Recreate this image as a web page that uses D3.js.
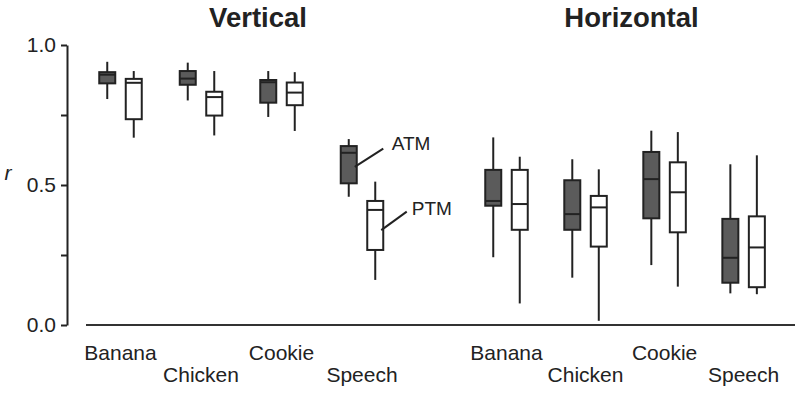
<!DOCTYPE html>
<html>
<head>
<meta charset="utf-8">
<script src="https://cdn.jsdelivr.net/npm/d3@7"></script>
<style>
  body { margin: 0; background: #fff; }
  text { font-family: "Liberation Sans", Arial, sans-serif; fill: #222; }
</style>
</head>
<body>
<svg width="800" height="393"></svg>
<script>
const width = 800;
const height = 393;

// categories and groups
const categories = ["Banana", "Chicken", "Cookie", "Speech"];
const groups = ["Vertical", "Horizontal"];
const yTicks = [0, 0.25, 0.5, 0.75, 1.0];
const yTickLabels = ["0.0", "", "0.5", "", "1.0"];

// five-number summaries: [whisker low, q1, median, q3, whisker high]
const vertAtm = [
    [0.807, 0.863, 0.894, 0.903, 0.940],
    [0.802, 0.858, 0.880, 0.907, 0.937],
    [0.743, 0.794, 0.867, 0.875, 0.907],
    [0.458, 0.506, 0.615, 0.639, 0.664]
];
const vertPtm = [
    [0.669, 0.735, 0.865, 0.879, 0.907],
    [0.677, 0.748, 0.814, 0.833, 0.907],
    [0.693, 0.785, 0.830, 0.866, 0.903],
    [0.161, 0.268, 0.411, 0.443, 0.512]
];
const horizAtm = [
    [0.242, 0.426, 0.443, 0.554, 0.670],
    [0.169, 0.340, 0.396, 0.517, 0.592],
    [0.214, 0.381, 0.521, 0.618, 0.694],
    [0.113, 0.151, 0.240, 0.379, 0.574]
];
const horizPtm = [
    [0.077, 0.340, 0.432, 0.554, 0.601],
    [0.015, 0.280, 0.420, 0.461, 0.556],
    [0.137, 0.331, 0.474, 0.581, 0.689],
    [0.110, 0.135, 0.277, 0.388, 0.606]
];

const svg = d3.select("svg")
    .attr("viewBox", [0, 0, width, height]);

const y = d3.scaleLinear()
    .domain([0, 1])
    .range([325, 45]);

// one point scale per group
const xGroup = {
    Vertical: d3.scalePoint().domain(categories).range([120.5, 362]),
    Horizontal: d3.scalePoint().domain(categories).range([506.5, 743.6])
};
const pairOffset = 13.25;
const boxW = 16;

// y axis
const yAxis = svg.append("g")
    .attr("transform", "translate(67,0)")
    .call(d3.axisLeft(y)
        .tickValues(yTicks)
        .tickFormat((d, i) => yTickLabels[i])
        .tickSize(6)
        .tickSizeOuter(0)
        .tickPadding(5));
yAxis.select(".domain").attr("stroke", "#222").attr("stroke-width", 2);
yAxis.selectAll(".tick line").attr("stroke", "#222").attr("stroke-width", 2);
yAxis.selectAll(".tick text")
    .attr("font-size", 21)
    .attr("font-family", "Liberation Sans, Arial, sans-serif")
    .attr("fill", "#222");

svg.append("text")
    .attr("x", 8)
    .attr("y", 180)
    .attr("text-anchor", "middle")
    .attr("font-size", 21)
    .attr("font-style", "italic")
    .text("r");

// baseline
svg.append("line")
    .attr("x1", 86).attr("x2", 795)
    .attr("y1", y(0)).attr("y2", y(0))
    .attr("stroke", "#333")
    .attr("stroke-width", 2);

function drawBoxes(g, data, xs, offset, fill) {
    const items = data.map((d, i) => ({ cat: categories[i], s: d }));
    const box = g.selectAll(null)
        .data(items)
        .join("g")
        .attr("transform", d => `translate(${xs(d.cat) + offset},0)`);

    box.append("line")
        .attr("x1", 0).attr("x2", 0)
        .attr("y1", d => y(d.s[0])).attr("y2", d => y(d.s[4]))
        .attr("stroke", "#222").attr("stroke-width", 2);

    box.append("rect")
        .attr("x", -boxW / 2)
        .attr("width", boxW)
        .attr("y", d => y(d.s[3]))
        .attr("height", d => y(d.s[1]) - y(d.s[3]))
        .attr("fill", fill)
        .attr("stroke", "#222").attr("stroke-width", 2);

    box.append("line")
        .attr("x1", -boxW / 2).attr("x2", boxW / 2)
        .attr("y1", d => y(d.s[2])).attr("y2", d => y(d.s[2]))
        .attr("stroke", "#222").attr("stroke-width", 2);
}

const plot = svg.append("g");
drawBoxes(plot, vertAtm, xGroup.Vertical, -pairOffset, "#5b5b5b");
drawBoxes(plot, vertPtm, xGroup.Vertical, pairOffset, "#fff");
drawBoxes(plot, horizAtm, xGroup.Horizontal, -pairOffset, "#5b5b5b");
drawBoxes(plot, horizPtm, xGroup.Horizontal, pairOffset, "#fff");

// category labels, staggered in two rows
groups.forEach(gName => {
    const xs = xGroup[gName];
    svg.append("g").selectAll("text")
        .data(categories)
        .join("text")
        .attr("x", d => xs(d))
        .attr("y", (d, i) => i % 2 === 0 ? 360 : 382)
        .attr("text-anchor", "middle")
        .attr("font-size", 21)
        .text(d => d);
});

// group titles
svg.append("text")
    .attr("x", 258).attr("y", 27)
    .attr("text-anchor", "middle")
    .attr("font-size", 27.5)
    .attr("font-weight", "bold")
    .text("Vertical");
svg.append("text")
    .attr("x", 631.5).attr("y", 27)
    .attr("text-anchor", "middle")
    .attr("font-size", 27.5)
    .attr("font-weight", "bold")
    .text("Horizontal");

// ATM / PTM callouts on the Speech pair
const xs = xGroup.Vertical("Speech");
const xa = xs - pairOffset;
const xp = xs + pairOffset;

svg.append("line")
    .attr("x1", xa + 6).attr("y1", y(0.565))
    .attr("x2", xa + 34.5).attr("y2", y(0.63))
    .attr("stroke", "#222").attr("stroke-width", 2);
svg.append("text")
    .attr("x", xa + 43).attr("y", 149.5)
    .attr("font-size", 19)
    .text("ATM");

svg.append("line")
    .attr("x1", xp + 6).attr("y1", y(0.339))
    .attr("x2", xp + 31.5).attr("y2", y(0.405))
    .attr("stroke", "#222").attr("stroke-width", 2);
svg.append("text")
    .attr("x", xp + 36.5).attr("y", 215)
    .attr("font-size", 19)
    .text("PTM");
</script>
</body>
</html>
